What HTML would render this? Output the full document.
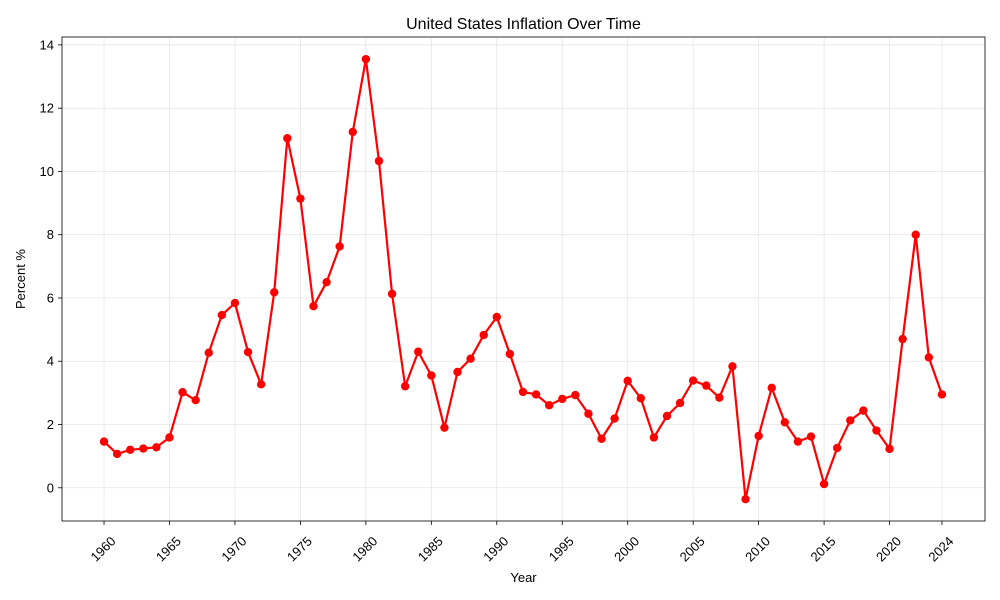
<!DOCTYPE html>
<html><head><meta charset="utf-8"><style>
body{margin:0;background:#fff;}
svg{display:block;font-family:"Liberation Sans","DejaVu Sans",sans-serif;}
</style></head><body>
<svg id="chart" width="1000" height="600" xmlns="http://www.w3.org/2000/svg"></svg>
<script>
const years = [1960,1961,1962,1963,1964,1965,1966,1967,1968,1969,1970,1971,1972,1973,1974,1975,1976,1977,1978,1979,1980,1981,1982,1983,1984,1985,1986,1987,1988,1989,1990,1991,1992,1993,1994,1995,1996,1997,1998,1999,2000,2001,2002,2003,2004,2005,2006,2007,2008,2009,2010,2011,2012,2013,2014,2015,2016,2017,2018,2019,2020,2021,2022,2023,2024];
const inflation = [1.46,1.07,1.20,1.24,1.28,1.59,3.02,2.77,4.27,5.46,5.84,4.29,3.27,6.18,11.05,9.14,5.74,6.50,7.63,11.25,13.55,10.33,6.13,3.21,4.30,3.55,1.90,3.66,4.08,4.83,5.40,4.23,3.03,2.95,2.61,2.81,2.93,2.34,1.55,2.19,3.38,2.83,1.59,2.27,2.68,3.39,3.23,2.85,3.84,-0.36,1.64,3.16,2.07,1.46,1.62,0.12,1.26,2.13,2.44,1.81,1.23,4.70,8.00,4.12,2.95];
const xTicks = [1960,1965,1970,1975,1980,1985,1990,1995,2000,2005,2010,2015,2020,2024];
const yTicks = [0,2,4,6,8,10,12,14];

const L=62,R=985,T=37,B=521;
const X0=1956.79,X1=2027.29,Y0=-1.05,Y1=14.25;
const sx=v=>L+(v-X0)/(X1-X0)*(R-L);
const sy=v=>B-(v-Y0)/(Y1-Y0)*(B-T);
const svg=document.getElementById('chart');
const NS='http://www.w3.org/2000/svg';
function mk(tag,attrs,parent){const e=document.createElementNS(NS,tag);for(const k in attrs)e.setAttribute(k,attrs[k]);(parent||svg).appendChild(e);return e;}

const grid=mk('g',{});


xTicks.forEach(t=>{
  const l=mk('line',{x1:sx(t),x2:sx(t),y1:T,y2:B,stroke:'#b0b0b0','stroke-opacity':0.3,'stroke-width':0.8},grid);
  
  
  const tk=mk('line',{x1:sx(t),x2:sx(t),y1:B,y2:B+4,stroke:'#000','stroke-width':0.8});
  
  
  const x=sx(t)-1,y=B+28;
  const tx=mk('text',{x:x,y:y+4.5,'font-size':13,'text-anchor':'middle',transform:`rotate(-45 ${x} ${y})`});
  tx.textContent=t;
  
  
});
yTicks.forEach(t=>{
  const l=mk('line',{x1:L,x2:R,y1:sy(t),y2:sy(t),stroke:'#b0b0b0','stroke-opacity':0.3,'stroke-width':0.8},grid);
  
  
  const tk=mk('line',{x1:L-4,x2:L,y1:sy(t),y2:sy(t),stroke:'#000','stroke-width':0.8});
  
  
  const tx=mk('text',{x:L-8,y:sy(t)+4.5,'font-size':13,'text-anchor':'end'});
  tx.textContent=t;
  
  
});
const frame=mk('rect',{x:L,y:T,width:R-L,height:B-T,fill:'none',stroke:'#000','stroke-width':0.8});



const pts=years.map((y,i)=>sx(y)+','+sy(inflation[i])).join(' ');
const line=mk('polyline',{points:pts,fill:'none',stroke:'#ff0000','stroke-width':2.2,'stroke-linejoin':'round'});


years.forEach((y,i)=>{
  const c=mk('circle',{cx:sx(y),cy:sy(inflation[i]),r:4.2,fill:'#ff0000'});
  
  
});

const title=mk('text',{x:(L+R)/2,y:29,'font-size':16,'text-anchor':'middle'});
title.textContent='United States Inflation Over Time';


const xl=mk('text',{x:(L+R)/2,y:582,'font-size':13,'text-anchor':'middle'});
xl.textContent='Year';


const yl=mk('text',{x:25,y:(T+B)/2,'font-size':13,'text-anchor':'middle',transform:`rotate(-90 25 ${(T+B)/2})`});
yl.textContent='Percent %';


</script>
</body></html>
